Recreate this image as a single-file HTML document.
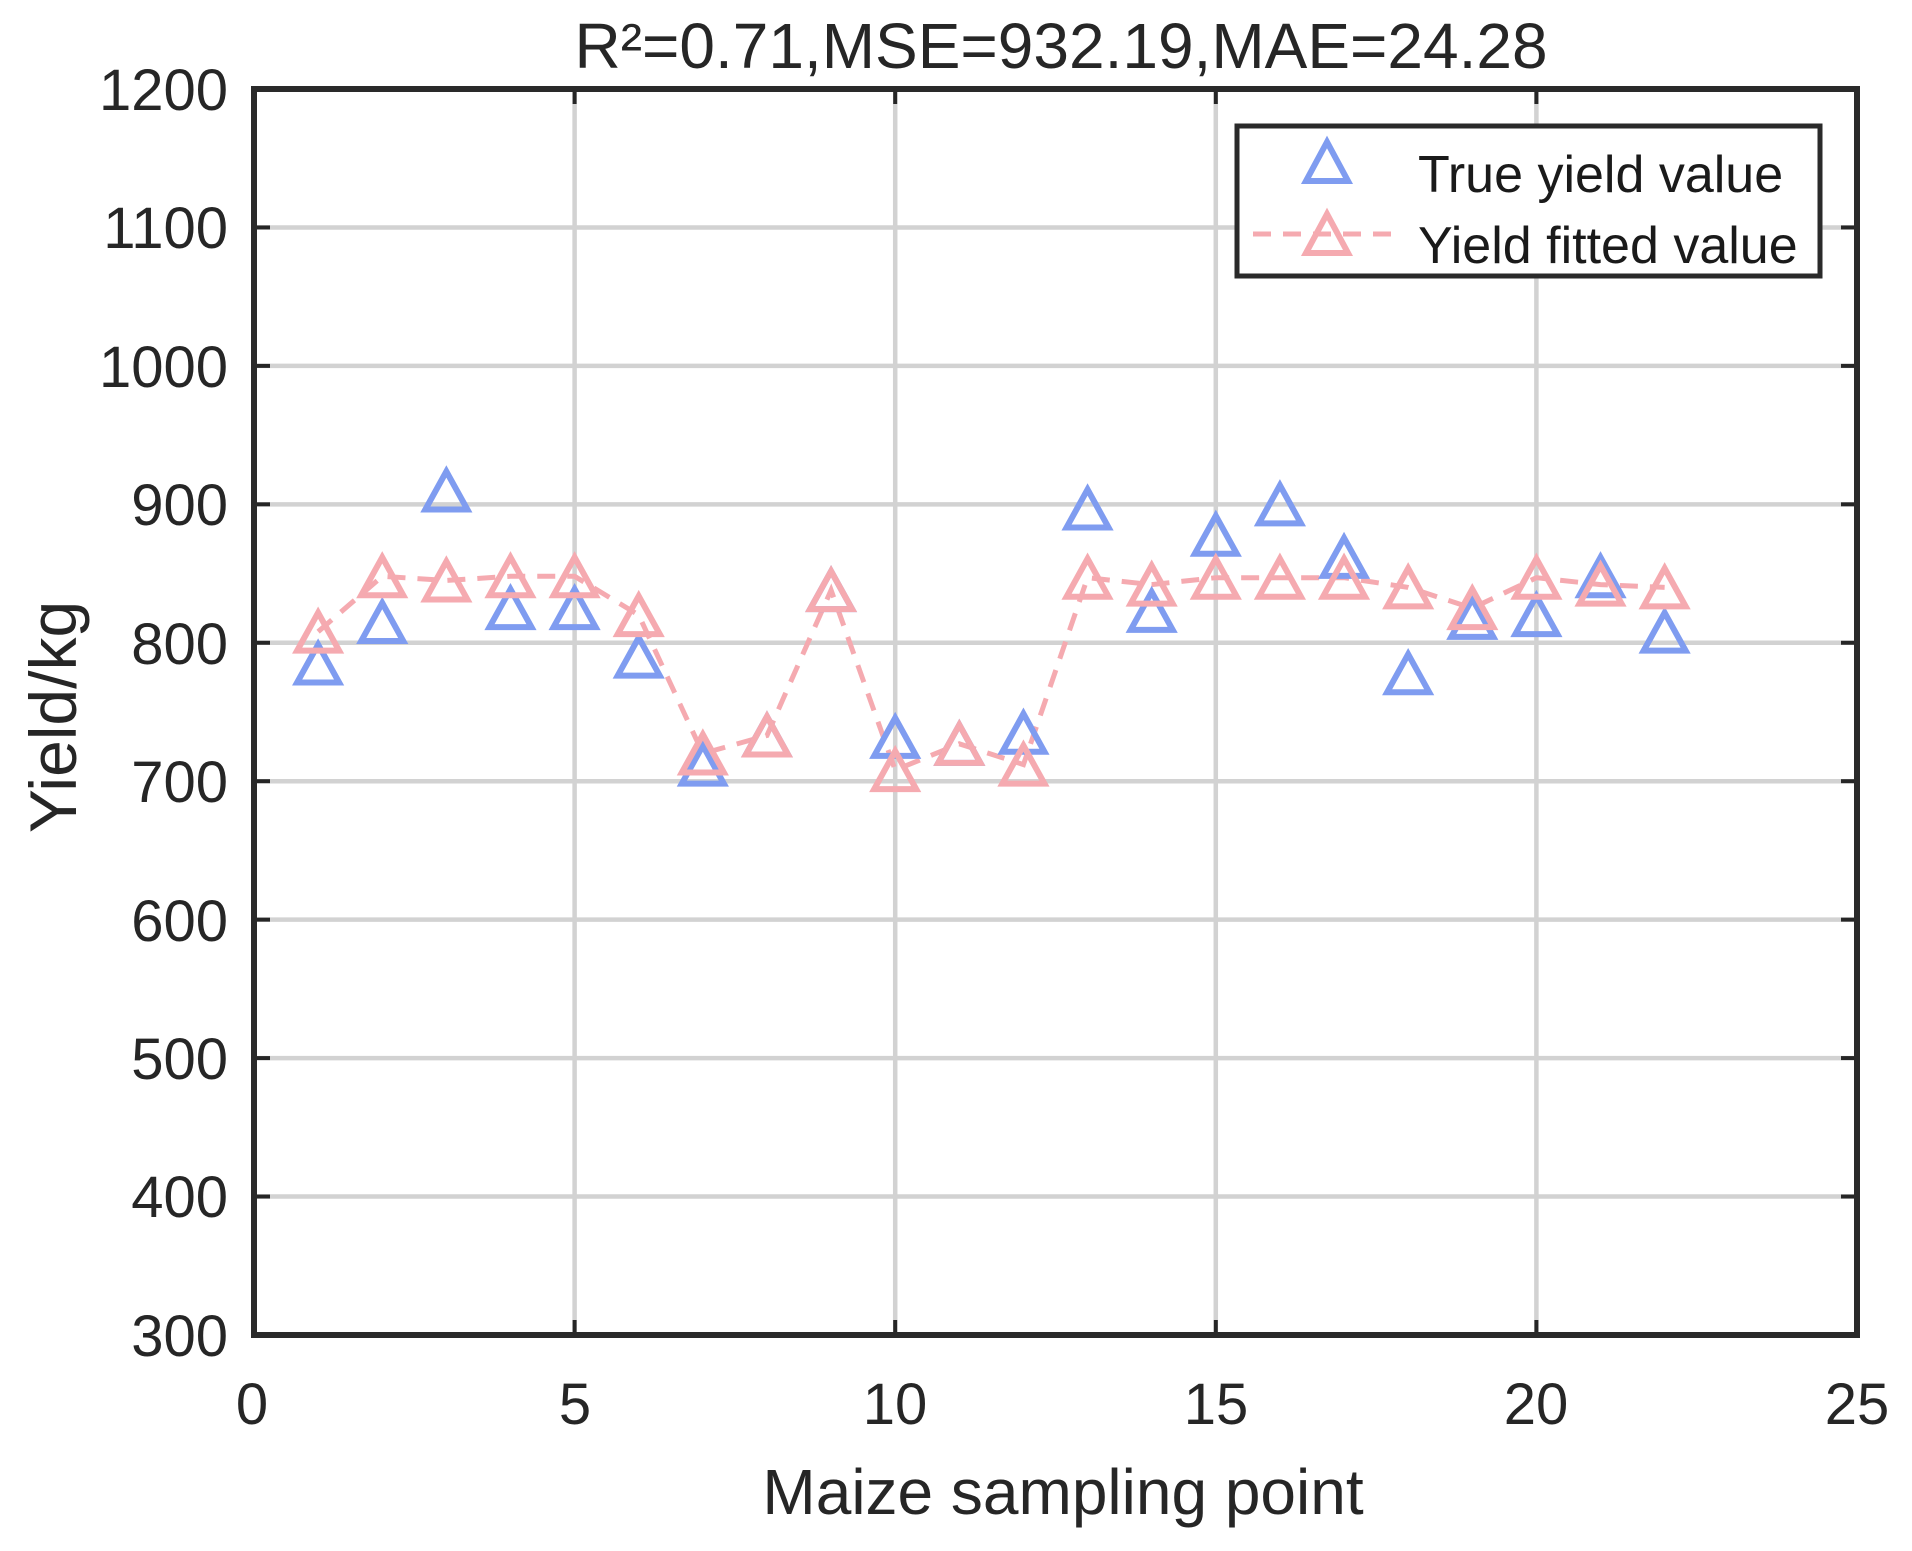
<!DOCTYPE html>
<html><head><meta charset="utf-8"><style>
html,body{margin:0;padding:0;background:#fff;}
svg{display:block;font-family:"Liberation Sans",Arial,sans-serif;}
</style></head><body>
<svg id="s" width="1912" height="1551" viewBox="0 0 1912 1551" xmlns="http://www.w3.org/2000/svg">
<rect width="1912" height="1551" fill="#fff"/>
<g id="grid" stroke="#d2d2d2" stroke-width="4.5"></g>
<g id="ticks" stroke="#262626" stroke-width="4"></g>
<g id="series"></g>
<rect x="254" y="89" width="1603" height="1246" fill="none" stroke="#2a2a2a" stroke-width="6"/>
<g fill="#262626" font-size="58" text-anchor="end">
<text x="228" y="110">1200</text>
<text x="228" y="248">1100</text>
<text x="228" y="387">1000</text>
<text x="228" y="525">900</text>
<text x="228" y="664">800</text>
<text x="228" y="802">700</text>
<text x="228" y="941">600</text>
<text x="228" y="1079">500</text>
<text x="228" y="1217">400</text>
<text x="228" y="1356">300</text>
</g>
<g fill="#262626" font-size="58" text-anchor="middle">
<text x="252" y="1424">0</text>
<text x="575" y="1424">5</text>
<text x="895" y="1424">10</text>
<text x="1216" y="1424">15</text>
<text x="1536" y="1424">20</text>
<text x="1857" y="1424">25</text>
</g>
<text x="1061" y="68" font-size="64" fill="#262626" text-anchor="middle">R²=0.71,MSE=932.19,MAE=24.28</text>
<text x="1063" y="1514" font-size="64" fill="#262626" text-anchor="middle">Maize sampling point</text>
<text transform="translate(76,717) rotate(-90)" font-size="66" fill="#262626" text-anchor="middle">Yield/kg</text>
<rect x="1237" y="126" width="583" height="150" fill="#fff" stroke="#2a2a2a" stroke-width="5"/>
<line x1="1253" y1="234" x2="1400" y2="234" stroke="#f5aab0" stroke-width="5" stroke-dasharray="18 12"/>
<polygon points="1327,142 1306,181 1348,181" fill="none" stroke="#7f9cf0" stroke-width="6"/>
<polygon points="1327,214 1306,253 1348,253" fill="none" stroke="#f5aab0" stroke-width="6"/>
<g fill="#1a1a1a" font-size="52">
<text x="1418" y="192">True yield value</text>
<text x="1418" y="263">Yield fitted value</text>
</g>
</svg>
<script>
var NS="http://www.w3.org/2000/svg";
function X(x){return 254+64.12*x;}
function Y(v){return 89+(1200-v)*1.3844;}
function el(p,t,a){var e=document.createElementNS(NS,t);for(var k in a)e.setAttribute(k,a[k]);document.getElementById(p).appendChild(e);return e;}
for(var i=5;i<25;i+=5){el('grid','line',{x1:X(i),y1:89,x2:X(i),y2:1335});el('ticks','line',{x1:X(i),y1:1335,x2:X(i),y2:1320});el('ticks','line',{x1:X(i),y1:89,x2:X(i),y2:104});}
for(var v=400;v<1200;v+=100){el('grid','line',{x1:254,y1:Y(v),x2:1857,y2:Y(v)});el('ticks','line',{x1:254,y1:Y(v),x2:270,y2:Y(v)});el('ticks','line',{x1:1841,y1:Y(v),x2:1857,y2:Y(v)});}
var tr=[785,815,910,825,825,790,712,733,838,732,727,735,897,823,878,900,862,778,818,820,848,808];
var ft=[808,848,845,848,848,820,720,733,838,708,727,712,847,842,847,847,847,840,825,847,842,840];
var pts=ft.map(function(v,i){return X(i+1)+","+Y(v);}).join(" ");
el('series','polyline',{points:pts,fill:"none",stroke:"#f5aab0","stroke-width":5,"stroke-dasharray":"18 12"});
function tri(x,y,c){el('series','polygon',{points:(x)+","+(y-19)+" "+(x-21)+","+(y+19)+" "+(x+21)+","+(y+19),fill:"none",stroke:c,"stroke-width":6});}
tr.forEach(function(v,i){tri(X(i+1),Y(v),"#7f9cf0");});
ft.forEach(function(v,i){tri(X(i+1),Y(v),"#f5aab0");});
</script>
</body></html>
